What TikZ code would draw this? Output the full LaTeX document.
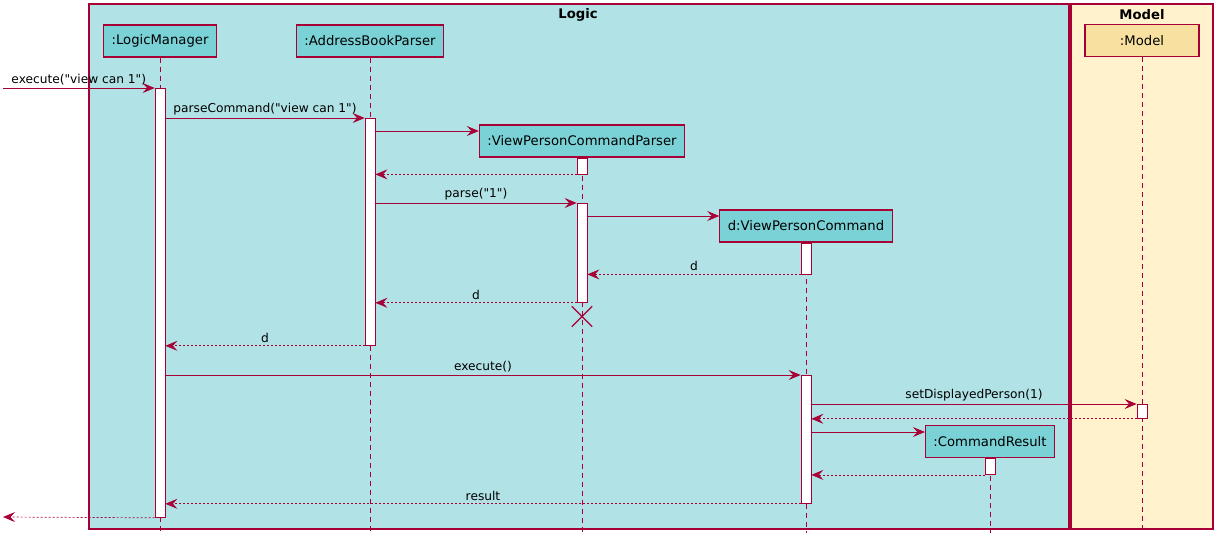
\documentclass[tikz,border=0pt]{standalone}
\usepackage{fontspec}
\setmainfont{DejaVu Sans}[Ligatures=TeXOff]
\usetikzlibrary{positioning}
\usetikzlibrary{arrows.meta}
\usetikzlibrary{shapes.misc}
\definecolor{border}{RGB}{168,0,54}
\definecolor{logicbg}{RGB}{176,226,230}
\definecolor{logicbox}{RGB}{122,210,214}
\definecolor{modelbg}{RGB}{255,242,204}
\definecolor{modelbox}{RGB}{248,225,160}

\begin{document}
\begin{tikzpicture}[%
  x=1pt, y=-1pt,
  frame/.style={draw=border, line width=1.2pt},
  title/.style={font=\fontsize{13.2}{15}\selectfont\bfseries},
  actor/.style={draw=border, line width=1.2pt, fill=logicbox, minimum height=32pt,
    inner xsep=8pt, font=\fontsize{13.2}{15}\selectfont},
  lifeline/.style={draw=border, line width=0.7pt, dash pattern=on 5pt off 4pt},
  actbar/.style={draw=border, fill=white, line width=0.8pt, minimum width=10pt,
    inner sep=0pt, anchor=north},
  msg/.style={draw=border, line width=0.7pt, -{Stealth[length=12pt,width=10pt,inset=4.5pt]}},
  ret/.style={msg, dash pattern=on 2pt off 2pt},
  lbl/.style={above, font=\fontsize{12.2}{14}\selectfont, inner sep=3pt},
]
  \useasboundingbox (0,0) rectangle (1223,546);

  % Boxes
  \draw[frame, fill=logicbg] (89,4) rectangle (1069,529);
  \draw[frame, fill=modelbg] (1071,4) rectangle (1213,529);
  \node[title] (logicT) at (578,15) {Logic};
  \node[title] (modelT) at (1142,15) {Model};

  % Participants
  \node[actor] (lm) at (160,41) {:LogicManager};
  \node[actor] (ab) at (370,41) {:AddressBookParser};
  \node[actor] (vpcp) at (582,141) {:ViewPersonCommandParser};
  \node[actor] (vpc) at (806,226) {d:ViewPersonCommand};
  \node[actor] (cr) at (990,441.5) {:CommandResult};
  \node[actor, fill=modelbox, minimum width=114pt] (model) at (1142,40.7) {:Model};

  \foreach \p in {lm,ab,vpcp,vpc,cr,model}
    \draw[lifeline] (\p.south) -- (\p.south |- 0,533);

  % Activations
  \node[actbar, minimum height=429pt] (lmA) at (160,88) {};
  \node[actbar, minimum height=227pt] (abA) at (370,118) {};
  \node[actbar, minimum height=16pt] (vpcpA1) at (vpcp.south) {};
  \node[actbar, minimum height=99pt] (vpcpA2) at (582,203) {};
  \node[actbar, minimum height=31pt] (vpcA1) at (vpc.south) {};
  \node[actbar, minimum height=128pt] (vpcA2) at (806,375) {};
  \node[actbar, minimum height=14pt] (mA) at (1142,404) {};
  \node[actbar, minimum height=16pt] (crA) at (cr.south) {};

  \coordinate (in) at (3,88);
  \coordinate (out) at (3,517);

  \draw[msg] (in) -- node[lbl] {execute("view can 1")} (lmA.north west);
  \draw[msg] (lmA.east |- abA.north) -- node[lbl] {parseCommand("view can 1")} (abA.north west);
  \draw[msg] (abA.east |- 0,131) -- (vpcp.west |- 0,131);
  \draw[ret] (vpcpA1.south west) -- (abA.east |- vpcpA1.south);
  \draw[msg] (abA.east |- vpcpA2.north) -- node[lbl] {parse("1")} (vpcpA2.north west);
  \draw[msg] (vpcpA2.east |- 0,216) -- (vpc.west |- 0,216);
  \draw[ret] (vpcA1.south west) -- node[lbl] {d} (vpcpA2.east |- vpcA1.south);
  \draw[ret] (vpcpA2.south west) -- node[lbl] {d} (abA.east |- vpcpA2.south);
  \node[draw=border, cross out, line width=1.3pt, inner sep=0pt, minimum size=19pt] (destroy) at (vpcpA2.south |- 0,316.5) {};
  \draw[ret] (abA.south west) -- node[lbl] {d} (lmA.east |- abA.south);
  \draw[msg] (lmA.east |- vpcA2.north) -- node[lbl] {execute()} (vpcA2.north west);
  \draw[msg] (vpcA2.east |- mA.north) -- node[lbl] {setDisplayedPerson(1)} (mA.north west);
  \draw[ret] (mA.south west) -- (vpcA2.east |- mA.south);
  \draw[msg] (vpcA2.east |- 0,432) -- (cr.west |- 0,432);
  \draw[ret] (crA.south west) -- (vpcA2.east |- crA.south);
  \draw[ret] (vpcA2.south west) -- node[lbl] {result} (lmA.east |- vpcA2.south);
  \draw[ret] (lmA.south west) -- (out);

\end{tikzpicture}
\end{document}
